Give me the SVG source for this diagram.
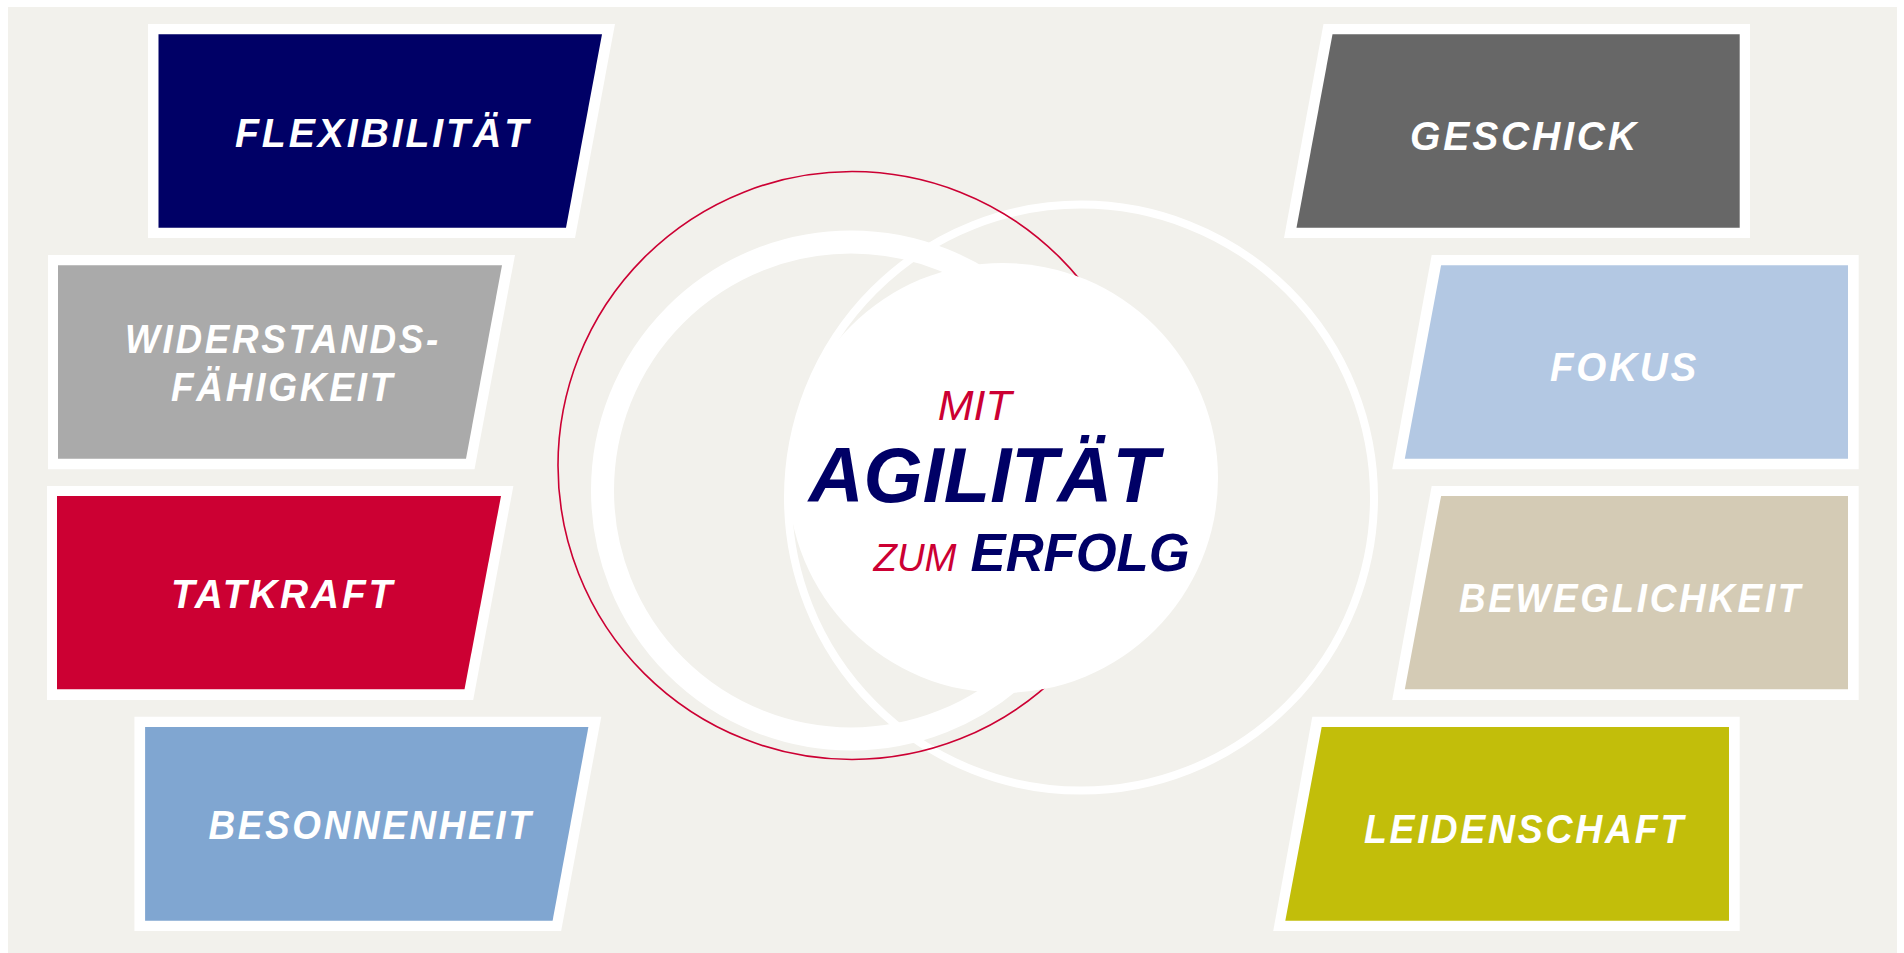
<svg xmlns="http://www.w3.org/2000/svg" width="1904" height="953" viewBox="0 0 1904 953">
  <style>
    .frame { fill: #FFFFFF; }
    .lbl { font-family: "Liberation Sans", Arial, sans-serif; font-weight: bold; font-style: italic; font-size: 41px; fill: #FFFFFF; letter-spacing: 3px; }
    .ring { fill: none; stroke: #FFFFFF; }
    .red { fill: #CC0033; font-family: "Liberation Sans", Arial, sans-serif; font-style: italic; }
    .navy { fill: #000066; font-family: "Liberation Sans", Arial, sans-serif; font-style: italic; font-weight: bold; }
  </style>
  <rect x="0" y="0" width="1904" height="953" fill="#FFFFFF"/>
  <rect x="8" y="7" width="1889" height="946" fill="#F2F1EC"/>

  <g id="rings">
    <circle class="ring" cx="851" cy="490.5" r="248.5" stroke-width="23"/>
    <circle class="ring" cx="1081" cy="497.6" r="293" stroke-width="8"/>
    <circle cx="852" cy="465.5" r="294" fill="none" stroke="#CC0033" stroke-width="1.6"/>
  </g>

  <g id="center">
    <circle cx="1003" cy="478" r="215" fill="#FFFFFF"/>
    <text class="red" x="937.7" y="420.3" font-size="43" textLength="74" lengthAdjust="spacingAndGlyphs">MIT</text>
    <text class="navy" x="808.8" y="502.4" font-size="77" textLength="350" lengthAdjust="spacingAndGlyphs">AGILITÄT</text>
    <text class="red" x="873.5" y="570.8" font-size="38" textLength="83" lengthAdjust="spacingAndGlyphs">ZUM</text>
    <text class="navy" x="970.6" y="570.8" font-size="54" textLength="219" lengthAdjust="spacingAndGlyphs">ERFOLG</text>
  </g>

  <g id="flexibilitaet">
    <polygon class="frame" points="148,24 615,24 575,238 148,238"/>
    <polygon fill="#000066" points="158.5,34.3 602,34.3 566,227.7 158.5,227.7"/>
    <text class="lbl" x="235" y="146.7" textLength="296" lengthAdjust="spacingAndGlyphs">FLEXIBILITÄT</text>
  </g>

  <g id="widerstandsfaehigkeit">
    <polygon class="frame" points="48,255 515,255 474.5,469.3 48,469.3"/>
    <polygon fill="#AAAAAA" points="58,265.3 502,265.3 466,458.7 58,458.7"/>
    <text class="lbl" x="125" y="353.3" textLength="316" lengthAdjust="spacingAndGlyphs">WIDERSTANDS-</text>
    <text class="lbl" x="171" y="401" textLength="224" lengthAdjust="spacingAndGlyphs">FÄHIGKEIT</text>
  </g>

  <g id="tatkraft">
    <polygon class="frame" points="47,486 513.4,486 473.2,700 47,700"/>
    <polygon fill="#CC0033" points="57,496 501,496 464.5,689.3 57,689.3"/>
    <text class="lbl" x="171" y="607.7" textLength="224" lengthAdjust="spacingAndGlyphs">TATKRAFT</text>
  </g>

  <g id="besonnenheit">
    <polygon class="frame" points="134.4,716.7 601.3,716.7 561.1,931 134.4,931"/>
    <polygon fill="#80A6D1" points="145.1,727 588.4,727 552.6,920.7 145.1,920.7"/>
    <text class="lbl" x="208.5" y="839" textLength="325" lengthAdjust="spacingAndGlyphs">BESONNENHEIT</text>
  </g>

  <g id="geschick">
    <polygon class="frame" points="1323.5,24 1750,24 1750,238 1284,238"/>
    <polygon fill="#676767" points="1332.5,34.3 1739.7,34.3 1739.7,227.7 1296.5,227.7"/>
    <text class="lbl" x="1410" y="150" textLength="229" lengthAdjust="spacingAndGlyphs">GESCHICK</text>
  </g>

  <g id="fokus">
    <polygon class="frame" points="1431.7,255 1858.7,255 1858.7,469.3 1392.2,469.3"/>
    <polygon fill="#B3C8E3" points="1441.1,265.3 1848,265.3 1848,458.7 1404.8,458.7"/>
    <text class="lbl" x="1550" y="381" textLength="149" lengthAdjust="spacingAndGlyphs">FOKUS</text>
  </g>

  <g id="beweglichkeit">
    <polygon class="frame" points="1431.7,486 1858.7,486 1858.7,700 1392.2,700"/>
    <polygon fill="#D4CBB5" points="1441.1,496 1848,496 1848,689.3 1404.8,689.3"/>
    <text class="lbl" x="1459" y="611.7" textLength="344" lengthAdjust="spacingAndGlyphs">BEWEGLICHKEIT</text>
  </g>

  <g id="leidenschaft">
    <polygon class="frame" points="1312.3,716.7 1739.7,716.7 1739.7,931 1273.2,931"/>
    <polygon fill="#C2BE0A" points="1321.7,727 1729,727 1729,920.7 1285.3,920.7"/>
    <text class="lbl" x="1364" y="842.7" textLength="322" lengthAdjust="spacingAndGlyphs">LEIDENSCHAFT</text>
  </g>
</svg>
